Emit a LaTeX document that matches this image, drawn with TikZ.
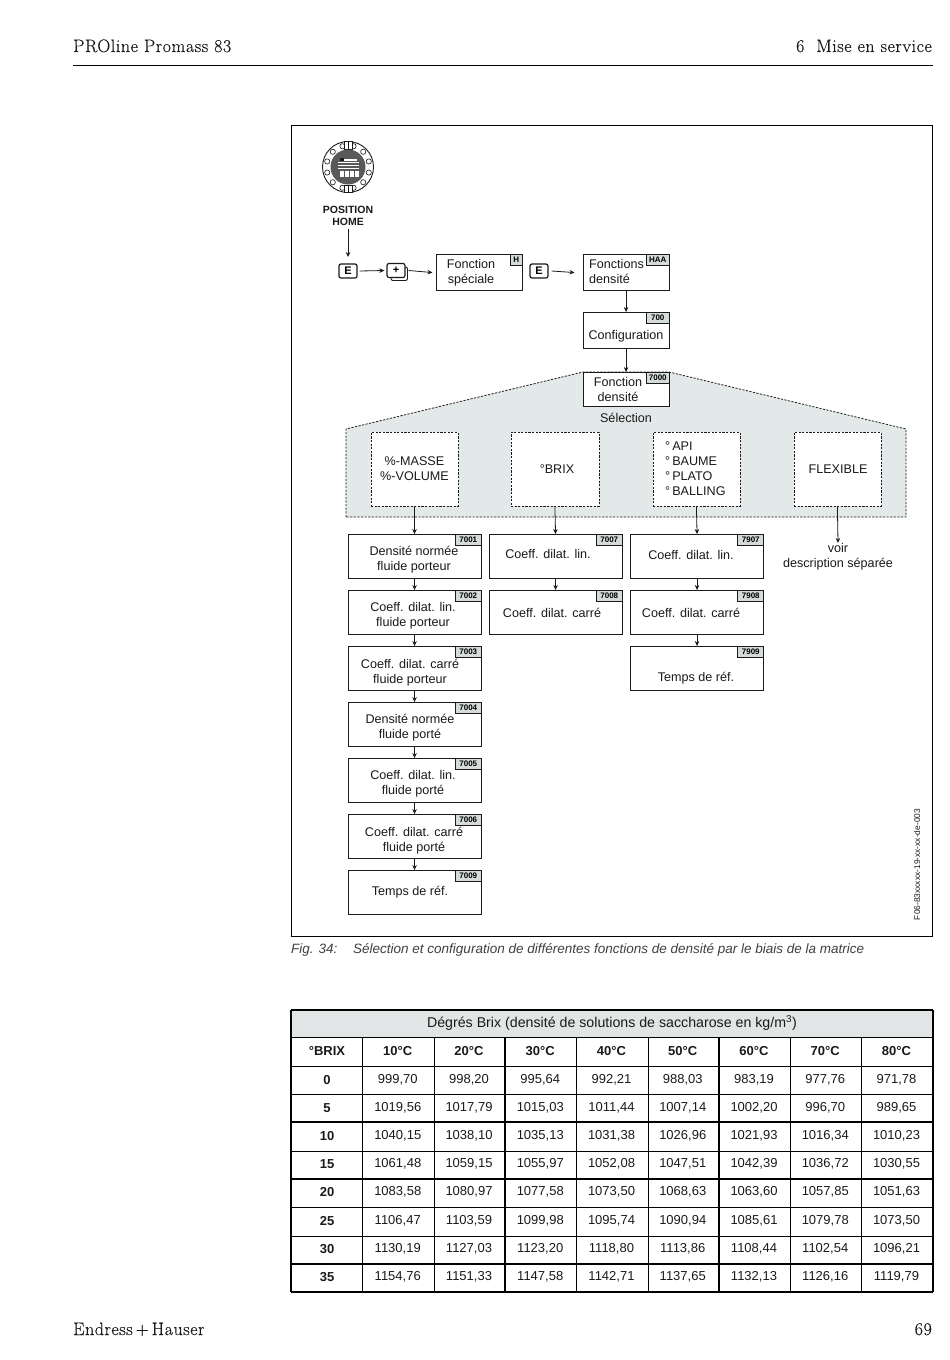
\documentclass[tikz,border=0pt]{standalone}
\usepackage{fontspec}
\setmainfont{Liberation Sans}
\newfontfamily\lmfont[LetterSpace=3,FakeBold=0.2]{Latin Modern Roman}
\usetikzlibrary{arrows.meta,calc}
\definecolor{panel}{HTML}{E3E8E8}
\definecolor{taggrey}{HTML}{D5DADA}
\definecolor{ink}{HTML}{1A1A1A}
\tikzset{
  fbox/.style={draw=ink,line width=1.1pt,fill=white,inner sep=0pt,anchor=north west},
  dbox/.style={draw=ink,line width=0.8pt,dash pattern=on 2.2pt off 1.4pt,fill=white,inner sep=0pt,anchor=north west},
  tagbox/.style={draw=ink,line width=0.7pt,fill=taggrey,inner sep=0pt,anchor=north east,minimum height=11pt,font=\bfseries\fontsize{8}{8}\selectfont},
  lbl/.style={inner sep=0pt,yshift=-1pt,align=center,text=ink,font=\fontsize{12.6}{15}\selectfont},
  arr/.style={draw=ink,line width=0.8pt,-{Stealth[length=5pt,width=4.5pt]}},
  keybox/.style={draw=ink,line width=1.2pt,fill=white,rounded corners=2pt,inner sep=0pt,minimum width=18pt,minimum height=14pt,font=\bfseries\fontsize{11}{12}\selectfont},
  hdr/.style={inner sep=0pt,text=ink,font=\lmfont\fontsize{18}{20}\selectfont},
  tval/.style={inner sep=0pt,text=ink,font=\fontsize{13}{14}\selectfont},
  thead/.style={inner sep=0pt,text=ink,font=\bfseries\fontsize{13}{14}\selectfont},
  tline/.style={draw=black,line width=0.7pt},
  tthick/.style={draw=black,line width=1.4pt},
  capt/.style={inner sep=0pt,anchor=base west,text=black!75,font=\itshape\fontsize{13.5}{15}\selectfont}
}
% name, left, top, width, height, tag, tag width
\newcommand{\fnbox}[7]{%
  \node[fbox,minimum width=#4pt,minimum height=#5pt] (#1) at (#2,#3) {};
  \node[tagbox,minimum width=#7pt] (#1tag) at (#1.north east) {#6};
}
\begin{document}
\begin{tikzpicture}[x=1pt,y=-1pt]
\useasboundingbox (0,0) rectangle (950,1360);
\fill[white] (0,0) rectangle (950,1360);
% page head and foot
\node[hdr,anchor=base west] (headl) at (73,52) {PROline Promass 83};
\node[hdr,anchor=base east] (headr) at (932,52) {6\ \ Mise en service};
\coordinate (rulel) at (73,65); \coordinate (ruler) at (933,65);
\draw[black,line width=1pt] (rulel) -- (ruler);
\node[hdr,anchor=base west] (footl) at (73,1335) {Endress\kern3pt+\kern3pt Hauser};
\node[hdr,anchor=base east] (footr) at (932,1335) {69};
% frame
\draw[black,line width=1pt] (291.5,125.5) rectangle (932.5,936.5);
% panel
\draw[draw=ink,fill=panel,line width=0.8pt,dash pattern=on 2.2pt off 1.4pt]
  (346,517) -- (346,429) -- (583,372) -- (669,372) -- (906,429) -- (906,517) -- cycle;
% knob
\begin{scope}[shift={(348,167)}]
  \draw[ink,fill=white,line width=0.9pt] (0,0) circle (25.5);
  \foreach \a in {15,45,...,345} \draw[ink,fill=white,line width=0.6pt] (\a:21.5) circle (2.6);
  \draw[ink,fill=white,line width=0.7pt] (-4,-25.5) rectangle (4,-18);
  \draw[ink,line width=0.5pt] (0,-25.5) -- (0,-18);
  \draw[ink,fill=white,line width=0.7pt] (-4,18) rectangle (4,25.5);
  \draw[ink,line width=0.5pt] (0,18) -- (0,25.5);
  \fill[gray!70!black] (0,0) circle (17.5);
  \fill[ink] (-8,-9.5) rectangle (-4,-6);
  \fill[white] (-4,-8.5) rectangle (9,-6.5);
  \fill[white] (-10,-5) rectangle (11,-4);
  \fill[white] (-10,-2) rectangle (11,-1);
  \fill[white] (-10,1) rectangle (11,2);
  \foreach \x in {-8,-3,2,7} \fill[white] (\x,4) rectangle +(3.5,6);
\end{scope}
\node[inner sep=0pt,align=center,text=ink,font=\fontsize{10.5}{12}\selectfont\bfseries] (home) at (348,216) {POSITION\\HOME};
% key row
\node[keybox] (e1) at (348,271) {E};
\draw[ink,line width=0.9pt,rounded corners=2pt] (391,278) -- (391,280.5) -- (407.5,280.5) -- (407.5,267) -- (405,267);
\node[keybox] (plus) at (396,270.5) {+};
\fnbox{spec}{435.5}{254}{86}{36}{H}{12}
\node[lbl] (spect) at (471,272) {Fonction\\spéciale};
\node[keybox] (e2) at (539,271) {E};
\fnbox{fdens}{582.5}{254}{86}{36}{HAA}{23}
\node[lbl,align=left,anchor=west] (fdenst) at (589,270) {Fonctions\\densité};
\fnbox{conf}{582.5}{312}{86}{36}{700}{23}
\node[lbl] (conft) at (626,335) {Configuration};
\fnbox{fd}{582.5}{372}{86}{34}{7000}{23}
\node[lbl] (fdt) at (618,388.5) {Fonction\\densité};
\node[lbl] (sel) at (626,417) {Sélection};
\draw[arr] (home.south)++(0,3) -- (348,257);
\draw[arr] (e1.east)++(2,0) -- ($(plus.west)+(-2,0)$);
\draw[arr] ($(plus.east)+(3,0)$) -- ($(spec.west)+(-3,0)$);
\draw[arr] (e2.east)++(3,0) -- ($(fdens.west)+(-8,0)$);
\draw[arr] (fdens.south) -- (conf.north);
\draw[arr] (conf.south) -- (fd.north);
% selection boxes
\node[dbox,minimum width=87pt,minimum height=74pt] (s1) at (370.5,432) {};
\node[lbl] (s1t) at (414.5,468) {\%-MASSE\\\%-VOLUME};
\node[dbox,minimum width=88pt,minimum height=74pt] (s2) at (510.5,432) {};
\node[lbl] (s2t) at (557,468) {°BRIX};
\node[dbox,minimum width=87pt,minimum height=74pt] (s3) at (652.5,432) {};
\node[lbl,align=left,anchor=west] (s3t) at (665,468) {°\,API\\°\,BAUME\\°\,PLATO\\°\,BALLING};
\node[dbox,minimum width=87pt,minimum height=74pt] (s4) at (793.5,432) {};
\node[lbl] (s4t) at (838,468) {FLEXIBLE};
% column 1
\fnbox{a1}{347.5}{534}{133}{44}{7001}{26}
\node[lbl] at (414,558.5) {Densité normée\\fluide porteur};
\fnbox{a2}{347.5}{590}{133}{44}{7002}{26}
\node[lbl] at (413,615) {Coeff. dilat. lin.\\fluide porteur};
\fnbox{a3}{347.5}{646}{133}{44}{7003}{26}
\node[lbl] at (410,671.5) {Coeff. dilat. carré\\fluide porteur};
\fnbox{a4}{347.5}{702}{133}{44}{7004}{26}
\node[lbl] at (410,726.5) {Densité normée\\fluide porté};
\fnbox{a5}{347.5}{758}{133}{44}{7005}{26}
\node[lbl] at (413,783) {Coeff. dilat. lin.\\fluide porté};
\fnbox{a6}{347.5}{814}{133}{44}{7006}{26}
\node[lbl] at (414,839.5) {Coeff. dilat. carré\\fluide porté};
\fnbox{a7}{347.5}{870}{133}{44}{7009}{26}
\node[lbl] at (410,891) {Temps de réf.};
% column 2
\fnbox{b1}{488.5}{534}{133}{44}{7007}{26}
\node[lbl] at (548,553) {Coeff. dilat. lin.};
\fnbox{b2}{488.5}{590}{133}{44}{7008}{26}
\node[lbl] at (552,612) {Coeff. dilat. carré};
% column 3
\fnbox{c1}{630}{534}{133}{44}{7907}{26}
\node[lbl] at (691,554) {Coeff. dilat. lin.};
\fnbox{c2}{630}{590}{133}{44}{7908}{26}
\node[lbl] at (691,612) {Coeff. dilat. carré};
\fnbox{c3}{630}{646}{133}{44}{7909}{26}
\node[lbl] at (696,677) {Temps de réf.};
\node[lbl] (voir) at (838,555.5) {voir\\description séparée};
% connectors
\draw[arr] (s1.south) -- (a1.north);
\draw[arr] (s2.south) -- (b1.north);
\draw[arr] (s3.south) -- (c1.north);
\draw[arr] (s4.south) -- (voir.north);
\foreach \p/\q in {a1/a2,a2/a3,a3/a4,a4/a5,a5/a6,a6/a7,b1/b2,c1/c2,c2/c3}
  \draw[arr] (\p.south) -- (\q.north);
% code and caption
\node[rotate=90,inner sep=0pt,text=ink,font=\fontsize{8.4}{9}\selectfont] (code) at (917,864.5) {F06-83xxxxx-19-xx-xx-de-003};
\node[capt] (figno) at (291,953.5) {Fig. 34:};
\node[capt] (figcap) at (353,953.5) {Sélection et configuration de différentes fonctions de densité par le biais de la matrice};
% table
\fill[taggrey!70!white] (291,1010) rectangle (933,1037);
\foreach \y in {1037,1066,1094,1151,1207,1236} \draw[tline] (291,\y) -- (933,\y);
\foreach \y in {1010,1122,1179,1264,1292} \draw[tthick] (291,\y) -- (933,\y);
\foreach \x in {362,434,576,648,790,861} \draw[tline] (\x,1037) -- (\x,1292);
\foreach \x in {505,719} \draw[tthick] (\x,1037) -- (\x,1292);
\foreach \x in {291,933} \draw[tthick] (\x,1010) -- (\x,1292);
\node[inner sep=0pt,text=ink,font=\fontsize{14.2}{16}\selectfont] (ttitle) at (612,1023) {Dégrés Brix (densité de solutions de saccharose en kg/m\textsuperscript{3})};
\node[thead] (h0) at (327,1051) {°BRIX};
\foreach \t [count=\i] in {10,20,...,80} \node[thead] (h\i) at ({326.5+71.25*\i},1051) {\t°C};
\foreach \y/\b/\vals in {
 1080/0/{999{,}70,998{,}20,995{,}64,992{,}21,988{,}03,983{,}19,977{,}76,971{,}78},
 1108/5/{1019{,}56,1017{,}79,1015{,}03,1011{,}44,1007{,}14,1002{,}20,996{,}70,989{,}65},
 1136/10/{1040{,}15,1038{,}10,1035{,}13,1031{,}38,1026{,}96,1021{,}93,1016{,}34,1010{,}23},
 1164/15/{1061{,}48,1059{,}15,1055{,}97,1052{,}08,1047{,}51,1042{,}39,1036{,}72,1030{,}55},
 1192/20/{1083{,}58,1080{,}97,1077{,}58,1073{,}50,1068{,}63,1063{,}60,1057{,}85,1051{,}63},
 1221/25/{1106{,}47,1103{,}59,1099{,}98,1095{,}74,1090{,}94,1085{,}61,1079{,}78,1073{,}50},
 1249/30/{1130{,}19,1127{,}03,1123{,}20,1118{,}80,1113{,}86,1108{,}44,1102{,}54,1096{,}21},
 1277/35/{1154{,}76,1151{,}33,1147{,}58,1142{,}71,1137{,}65,1132{,}13,1126{,}16,1119{,}79}} {
  \node[thead] at (327,\y) {\b};
  \foreach \v [count=\i] in \vals \node[tval] at ({326.5+71.25*\i},\y) {\v};
}
\end{tikzpicture}
\end{document}
